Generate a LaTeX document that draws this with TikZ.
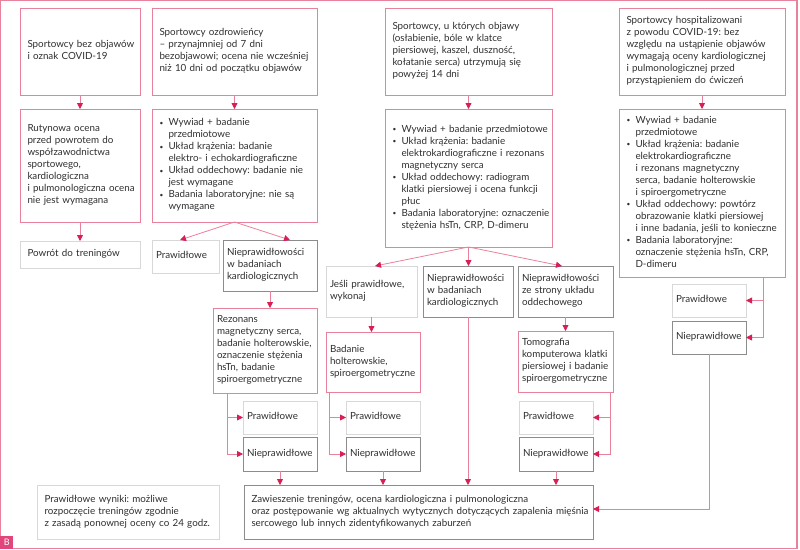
\documentclass[tikz,border=0pt]{standalone}
\usepackage{fontspec}
\setmainfont{Lato}
\usetikzlibrary{arrows.meta,calc}
\definecolor{pinkb}{HTML}{E8829C}
\definecolor{arrowc}{HTML}{D81E55}
\definecolor{grayb}{HTML}{8C8C8C}
\definecolor{lightb}{HTML}{D8D8D8}
\definecolor{txt}{HTML}{2E2E2E}
\definecolor{bfill}{HTML}{E0457B}
\frenchspacing
\newcommand\mylines[1]{\begin{tabular}{@{}l@{}}#1\end{tabular}}
\newcommand\mybul[1]{\begin{tabular}{@{}p{9pt}@{}l@{}}#1\end{tabular}}
\newcommand\bu{\raisebox{0.8pt}{\fontsize{6.5}{6.5}\selectfont\textbullet}}
\tikzset{
  base/.style={draw, line width=0.8pt, inner ysep=2pt, outer sep=0pt, anchor=north west, text=txt, font=\fontsize{9.8}{12}\selectfont},
  pk/.style={base, draw=pinkb},
  gy/.style={base, draw=grayb},
  lt/.style={base, draw=lightb},
  big/.style={inner xsep=7.5pt},
  sm/.style={inner xsep=4pt},
  conn/.style={draw=pinkb, line width=0.8pt, -{Triangle[length=6pt,width=6pt,color=arrowc]}},
}
\begin{document}
\begin{tikzpicture}[x=1pt,y=-1pt]
\useasboundingbox (0,0) rectangle (800,549);
\draw[pinkb, line width=1.2pt] (0.6,0.6) rectangle (797,548.4);
\node[fill=bfill, text=white, minimum width=13pt, minimum height=13pt, inner sep=0pt, anchor=south west, font=\fontsize{9}{9}\selectfont] (lblB) at (0,549) {B};
% row 1
\node[pk,big,minimum width=120pt,minimum height=87pt,text width=105pt] (A1) at (20,8) {\mylines{Sportowcy bez objawów\\ i oznak COVID-19}};
\node[pk,big,minimum width=165pt,minimum height=87pt,text width=150pt] (B1) at (152,8) {\mylines{Sportowcy ozdrowieńcy\\ – przynajmniej od 7 dni\\ bezobjawowi; ocena nie wcześniej\\ niż 10 dni od początku objawów}};
\node[pk,big,minimum width=167pt,minimum height=87pt,text width=152pt] (C1) at (385,8) {\mylines{Sportowcy, u których objawy\\ (osłabienie, bóle w klatce\\ piersiowej, kaszel, duszność,\\ kołatanie serca) utrzymują się\\ powyżej 14 dni}};
\node[pk,big,minimum width=166pt,minimum height=87pt,text width=151pt] (D1) at (619,8) {\mylines{Sportowcy hospitalizowani\\ z powodu COVID-19: bez\\ względu na ustąpienie objawów\\ wymagają oceny kardiologicznej\\ i pulmonologicznej przed\\ przystąpieniem do ćwiczeń}};
% row 2
\node[pk,big,minimum width=120pt,minimum height=113pt,text width=105pt] (A2) at (20,109) {\mylines{Rutynowa ocena\\ przed powrotem do\\ współzawodnictwa\\ sportowego,\\ kardiologiczna\\ i pulmonologiczna ocena\\ nie jest wymagana}};
\node[pk,big,minimum width=165pt,minimum height=113pt,text width=150pt] (B2) at (152,109) {\mybul{\bu & Wywiad + badanie\\ & przedmiotowe\\ \bu & Układ krążenia: badanie\\ & elektro- i echokardiograficzne\\ \bu & Układ oddechowy: badanie nie\\ & jest wymagane\\ \bu & Badania laboratoryjne: nie są\\ & wymagane}};
\node[pk,big,minimum width=167pt,minimum height=138pt,text width=152pt] (C2) at (385,109) {\mybul{\bu & Wywiad + badanie przedmiotowe\\ \bu & Układ krążenia: badanie\\ & elektrokardiograficzne i rezonans\\ & magnetyczny serca\\ \bu & Układ oddechowy: radiogram\\ & klatki piersiowej i ocena funkcji\\ & płuc\\ \bu & Badania laboratoryjne: oznaczenie\\ & stężenia hsTn, CRP, D-dimeru}};
\node[pk,big,minimum width=166pt,minimum height=168pt,text width=151pt] (D2) at (619,109) {\mybul{\bu & Wywiad + badanie\\ & przedmiotowe\\ \bu & Układ krążenia: badanie\\ & elektrokardiograficzne\\ & i rezonans magnetyczny\\ & serca, badanie holterowskie\\ & i spiroergometryczne\\ \bu & Układ oddechowy: powtórz\\ & obrazowanie klatki piersiowej\\ & i inne badania, jeśli to konieczne\\ \bu & Badania laboratoryjne:\\ & oznaczenie stężenia hsTn, CRP,\\ & D-dimeru}};
% column A
\node[lt,big,minimum width=120pt,minimum height=27pt,text width=105pt] (A3) at (20,241) {\mylines{Powrót do treningów}};
% column B
\node[lt,sm,minimum width=67pt,minimum height=33pt,text width=59pt] (B3a) at (152,240) {\mylines{Prawidłowe}};
\node[gy,sm,minimum width=94pt,minimum height=51pt,text width=86pt] (B3b) at (223,240) {\mylines{Nieprawidłowości\\ w badaniach\\ kardiologicznych}};
\node[pk,sm,minimum width=104pt,minimum height=85pt,text width=96pt] (B4) at (213,308) {\mylines{Rezonans\\ magnetyczny serca,\\ badanie holterowskie,\\ oznaczenie stężenia\\ hsTn, badanie\\ spiroergometryczne}};
\node[lt,sm,minimum width=74pt,minimum height=33pt,text width=66pt] (B5a) at (243,401) {\mylines{Prawidłowe}};
\node[gy,sm,minimum width=74pt,minimum height=34pt,text width=66pt] (B5b) at (243,437) {\mylines{Nieprawidłowe}};
% column C
\node[lt,sm,minimum width=91pt,minimum height=51pt,text width=83pt] (C3a) at (326,266) {\mylines{Jeśli prawidłowe,\\ wykonaj}};
\node[gy,sm,minimum width=90pt,minimum height=51pt,text width=82pt] (C3b) at (423,266) {\mylines{Nieprawidłowości\\ w badaniach\\ kardiologicznych}};
\node[gy,sm,minimum width=95pt,minimum height=51pt,text width=87pt] (C3c) at (518,266) {\mylines{Nieprawidłowości\\ ze strony układu\\ oddechowego}};
\node[pk,sm,minimum width=94pt,minimum height=60pt,text width=86pt] (C4a) at (326,332) {\mylines{Badanie\\ holterowskie,\\ spiroergometryczne}};
\node[pk,sm,minimum width=95pt,minimum height=61pt,text width=87pt] (C4c) at (518,331) {\mylines{Tomografia\\ komputerowa klatki\\ piersiowej i badanie\\ spiroergometryczne}};
\node[lt,sm,minimum width=74pt,minimum height=33pt,text width=66pt] (C5a) at (346,401) {\mylines{Prawidłowe}};
\node[gy,sm,minimum width=74pt,minimum height=34pt,text width=66pt] (C5b) at (346,437) {\mylines{Nieprawidłowe}};
\node[lt,sm,minimum width=74pt,minimum height=33pt,text width=66pt] (C5c) at (519,401) {\mylines{Prawidłowe}};
\node[gy,sm,minimum width=74pt,minimum height=34pt,text width=66pt] (C5d) at (519,437) {\mylines{Nieprawidłowe}};
% column D
\node[lt,sm,minimum width=74pt,minimum height=33pt,text width=66pt] (D3a) at (672,284) {\mylines{Prawidłowe}};
\node[gy,sm,minimum width=74pt,minimum height=33pt,text width=66pt] (D3b) at (672,321) {\mylines{Nieprawidłowe}};
% bottom
\node[lt,big,minimum width=182pt,minimum height=54pt,text width=167pt] (E1) at (37,485) {\mylines{Prawidłowe wyniki: możliwe\\ rozpoczęcie treningów zgodnie\\ z zasadą ponownej oceny co 24 godz.}};
\node[gy,big,minimum width=349pt,minimum height=54pt,text width=334pt] (E2) at (244,485) {\mylines{Zawieszenie treningów, ocena kardiologiczna i pulmonologiczna\\ oraz postępowanie wg aktualnych wytycznych dotyczących zapalenia mięśnia\\ sercowego lub innych zidentyfikowanych zaburzeń}};
% connectors
\draw[conn] (A1.south) -- (A2.north);
\draw[conn] (A2.south) -- (A3.north);
\draw[conn] (B1.south) -- (B2.north);
\draw[conn] (C1.south) -- (C2.north);
\draw[conn] (D1.south) -- (D2.north);
\draw[conn] (B2.south) -- ([xshift=28pt]B3a.north west);
\draw[conn] (B2.south) -- ([xshift=67pt]B3b.north west);
\draw[conn] (B3b.south) -- (B3b.south |- B4.north);
\draw[conn] ([xshift=14pt]B4.south west) |- (B5a.west);
\draw[conn] ([xshift=14pt]B4.south west) |- (B5b.west);
\draw[conn] (B5b.south) -- (B5b.south |- E2.north);
\draw[conn] (C2.south) -- ([xshift=49pt]C3a.north west);
\draw[conn] (C2.south) -- (C2.south |- C3b.north);
\draw[conn] (C2.south) -- ([xshift=44pt]C3c.north west);
\draw[conn] (C3a.south) -- (C3a.south |- C4a.north);
\draw[conn] ([xshift=3pt]C4a.south west) |- (C5a.west);
\draw[conn] ([xshift=3pt]C4a.south west) |- (C5b.west);
\draw[conn] (C5b.south) -- (C5b.south |- E2.north);
\draw[conn] (C3b.south) -- (C3b.south |- E2.north);
\draw[conn] (C3c.south) -- (C3c.south |- C4c.north);
\draw[conn] ([xshift=-3pt]C4c.south east) |- (C5c.east);
\draw[conn] ([xshift=-3pt]C4c.south east) |- (C5d.east);
\draw[conn] (C5d.south) -- (C5d.south |- E2.north);
\draw[conn] ([xshift=-22pt]D2.south east) |- (D3a.east);
\draw[conn] ([xshift=-22pt]D2.south east) |- (D3b.east);
\draw[conn] (D3b.south) |- ([yshift=3pt]E2.east);
\end{tikzpicture}
\end{document}
